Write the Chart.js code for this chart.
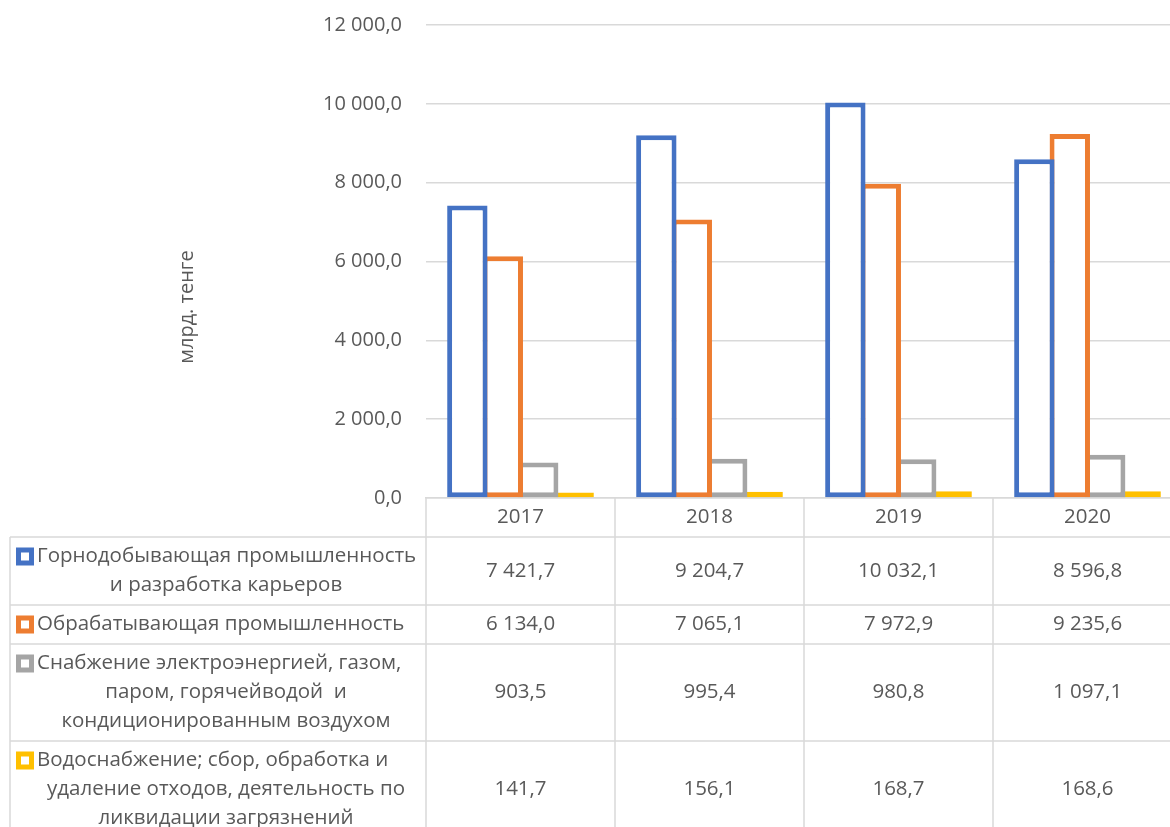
<!DOCTYPE html>
<html>
<head>
<meta charset="utf-8">
<script src="https://cdn.jsdelivr.net/npm/chart.js@4.4.1/dist/chart.umd.min.js"></script>
<style>
html,body{margin:0;padding:0;background:#fff;overflow:hidden;}
#wrap{width:1200px;height:827px;position:relative;}
</style>
</head>
<body>
<div id="wrap"><canvas id="c" width="1200" height="827"></canvas></div>
<script>
const years = ['2017', '2018', '2019', '2020'];
const mining = [7421.7, 9204.7, 10032.1, 8596.8];
const manufacturing = [6134.0, 7065.1, 7972.9, 9235.6];
const electricity = [903.5, 995.4, 980.8, 1097.1];
const water = [141.7, 156.1, 168.7, 168.6];
const seriesLabels = [
  ['Горнодобывающая промышленность', 'и разработка карьеров'],
  ['Обрабатывающая промышленность'],
  ['Снабжение электроэнергией, газом,', 'паром, горячейводой  и', 'кондиционированным воздухом'],
  ['Водоснабжение; сбор, обработка и', 'удаление отходов, деятельность по', 'ликвидации загрязнений']
];
const colors = ['#4472C4', '#ED7D31', '#A5A5A5', '#FFC000'];
const yTicks = [0, 2000, 4000, 6000, 8000, 10000, 12000];
const yTitle = 'млрд. тенге';

const FONT = '"Open Sans", "Liberation Sans", sans-serif';
const TXT = '#595959';
const LINE = '#d9d9d9';

function fmt(v) {
  const s = v.toFixed(1).split('.');
  const int = s[0].replace(/\B(?=(\d{3})+(?!\d))/g, ' ');
  return int + ',' + s[1];
}

const seriesValues = [mining, manufacturing, electricity, water];

const tablePlugin = {
  id: 'tablePlugin',
  afterDraw(chart) {
    const ctx = chart.ctx;
    const xs = chart.scales.x;
    const ca = chart.chartArea;
    const bottom = 827;
    const n = years.length;
    const catW = (ca.right - ca.left) / n;
    const left = 10;
    const lineH = 29;
    ctx.save();
    ctx.save();
    ctx.translate(187, 307);
    ctx.rotate(-Math.PI / 2);
    ctx.fillStyle = TXT;
    ctx.font = '20px ' + FONT;
    ctx.textAlign = 'center';
    ctx.textBaseline = 'middle';
    ctx.fillText(yTitle, 0, 0);
    ctx.restore();

    ctx.strokeStyle = LINE;
    ctx.lineWidth = 1.5;
    const headerTop = ca.bottom;
    const headerBottom = headerTop + 39;
    for (let i = 0; i <= n; i++) {
      const x = ca.left + i * catW;
      ctx.beginPath(); ctx.moveTo(x, headerTop); ctx.lineTo(x, bottom); ctx.stroke();
    }
    ctx.beginPath(); ctx.moveTo(left, headerBottom); ctx.lineTo(left, bottom); ctx.stroke();
    ctx.beginPath(); ctx.moveTo(left, headerBottom); ctx.lineTo(ca.right, headerBottom); ctx.stroke();

    ctx.font = '20.5px ' + FONT;
    ctx.fillStyle = TXT;
    ctx.textBaseline = 'middle';
    ctx.textAlign = 'center';
    for (let i = 0; i < n; i++) {
      ctx.fillText(years[i], xs.getPixelForValue(i), (headerTop + headerBottom) / 2);
    }
    let y = headerBottom;
    for (let s = 0; s < seriesLabels.length; s++) {
      const lines = seriesLabels[s];
      const h = lines.length * lineH + 10;
      const top = y;
      for (let l = 0; l < lines.length; l++) {
        const cy = top + 5 + lineH * l + lineH / 2;
        if (l === 0) {
          ctx.fillStyle = colors[s];
          ctx.fillRect(16, cy - 9, 18, 18);
          ctx.fillStyle = '#fff';
          ctx.fillRect(21, cy - 4, 8, 8);
          ctx.fillStyle = TXT;
          ctx.textAlign = 'left';
          ctx.fillText(lines[l], 37, cy);
        } else {
          ctx.fillStyle = TXT;
          ctx.textAlign = 'center';
          ctx.fillText(lines[l], 226, cy);
        }
      }
      ctx.textAlign = 'center';
      ctx.fillStyle = TXT;
      const vy = top + h / 2;
      for (let i = 0; i < n; i++) {
        ctx.fillText(fmt(seriesValues[s][i]), xs.getPixelForValue(i), vy);
      }
      y = top + h;
      ctx.beginPath(); ctx.moveTo(left, y); ctx.lineTo(ca.right, y); ctx.stroke();
    }
    ctx.restore();
  }
};

const datasets = seriesValues.map((vals, i) => ({
  label: seriesLabels[i].join(' '),
  data: vals,
  backgroundColor: '#ffffff',
  borderColor: colors[i],
  borderWidth: 5,
  borderSkipped: false,
  categoryPercentage: 0.75,
  barPercentage: 1.14
}));

new Chart(document.getElementById('c'), {
  type: 'bar',
  data: { labels: years, datasets },
  options: {
    responsive: false,
    animation: false,
    layout: { padding: { left: 0, top: 25, right: 18, bottom: 0 } },
    plugins: { legend: { display: false }, tooltip: { enabled: false } },
    scales: {
      x: {
        grid: { display: false },
        border: { display: true, color: LINE, width: 1.5 },
        ticks: { display: false },
        afterFit(scale) { scale.height = 827 - 498; scale.paddingLeft = 0; scale.paddingRight = 0; }
      },
      y: {
        min: 0, max: 12000,
        afterBuildTicks(scale) { scale.ticks = yTicks.map(v => ({ value: v })); },
        grid: { color: LINE, lineWidth: 1.5, drawTicks: false },
        border: { display: false },
        ticks: {
          padding: 24,
          color: TXT,
          font: { family: FONT, size: 20 },
          callback: v => fmt(v)
        },
        afterFit(scale) { scale.width = 426; scale.paddingTop = 0; scale.paddingBottom = 0; }
      }
    }
  },
  plugins: [tablePlugin]
});
</script>
</body>
</html>
